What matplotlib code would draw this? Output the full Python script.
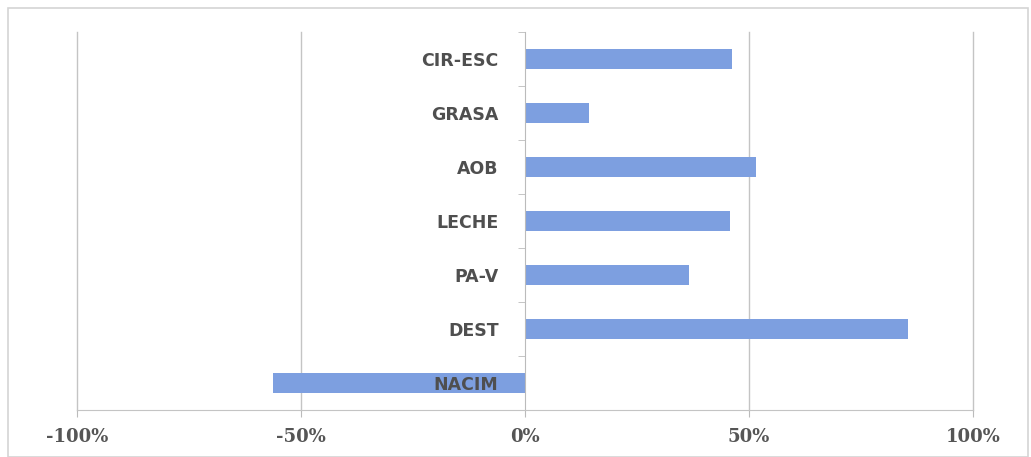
import matplotlib
matplotlib.use("Agg")
import matplotlib.pyplot as plt
from matplotlib.patches import Rectangle
from matplotlib.ticker import FuncFormatter

categories = ["NACIM", "DEST", "PA-V", "LECHE", "AOB", "GRASA", "CIR-ESC"]
values = [-0.563, 0.855, 0.366, 0.458, 0.516, 0.143, 0.462]
xticks = [-1.0, -0.5, 0.0, 0.5, 1.0]

W, H = 1031, 457
fig = plt.figure(figsize=(W / 100, H / 100), dpi=100)
fig.patch.set_facecolor("white")
fig.patches.append(Rectangle((8 / W, 0), (1028 - 8) / W, (H - 8) / H,
                             transform=fig.transFigure, fill=False,
                             edgecolor="#d4d4d4", lw=1.2))

ax = fig.add_axes([77 / W, 1 - 410 / H, (973 - 77) / W, (410 - 32) / H])
ypos = list(range(len(categories)))
ax.barh(ypos, values, height=0.37, color="#7d9fe0", zorder=1)

ax.set_xlim(-1.0, 1.0)
ax.set_ylim(-0.5, len(categories) - 0.5)
for x in xticks:
    if x != 0:
        ax.axvline(x, color="#c4c4c4", lw=1.0, zorder=0, clip_on=False)

ax.set_xticks(xticks)
ax.xaxis.set_major_formatter(FuncFormatter(lambda v, p: f"{v*100:.0f}%"))
ax.tick_params(axis="x", length=5, color="#bbbbbb", pad=8, labelsize=13,
               labelcolor="#555555")
for lab in ax.get_xticklabels():
    lab.set_fontfamily("DejaVu Serif")
    lab.set_fontweight("bold")

ax.spines["left"].set_position(("data", 0))
for s in ["top", "right"]:
    ax.spines[s].set_visible(False)
ax.spines["left"].set_color("#bbbbbb")
ax.spines["bottom"].set_color("#c4c4c4")
ax.set_yticks(ypos)
ax.set_yticklabels(categories)
ax.set_yticks([i - 0.5 for i in range(len(categories) + 1)], minor=True)
ax.tick_params(axis="y", which="major", length=0, pad=19, labelsize=12.5,
               labelcolor="#4f4f4f")
ax.tick_params(axis="y", which="minor", length=5, color="#bbbbbb")
for lab in ax.get_yticklabels():
    lab.set_fontfamily("DejaVu Sans")
    lab.set_fontweight("bold")
ax.set_facecolor("white")

fig.savefig("out.png", dpi=100)
